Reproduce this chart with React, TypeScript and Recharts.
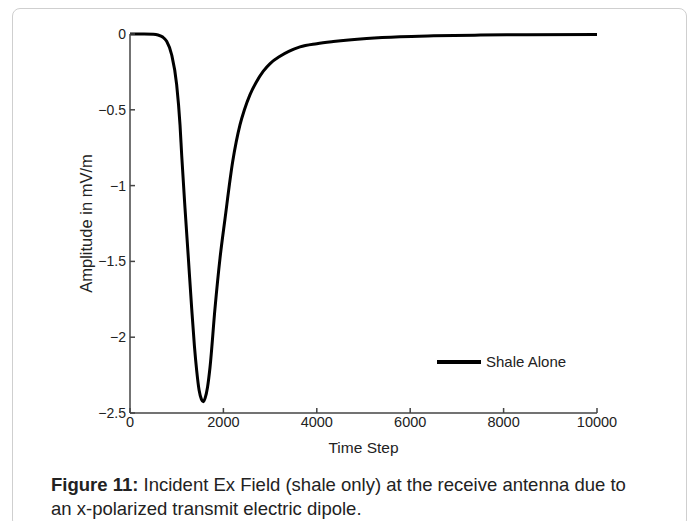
import React from 'react';
import { LineChart, Line, XAxis, YAxis, Legend } from 'recharts';

// time steps and amplitude (mV/m)
const timeSteps = [
  0, 300, 500, 600, 700, 785, 892, 999, 1071, 1107, 1178, 1250, 1321, 1380, 1428, 1480, 1530, 1570,
  1610, 1660, 1713, 1820, 1927, 2034, 2200, 2355, 2450, 2570, 2700, 2855, 3000, 3212, 3400, 3640,
  4000, 4354, 5068, 5782, 6500, 7500, 8500, 10000,
];
const amplitude = [
  0, 0, -0.002, -0.007, -0.02, -0.048, -0.137, -0.334, -0.6, -0.8, -1.15, -1.48, -1.81, -2.06, -2.22,
  -2.35, -2.41, -2.425, -2.4, -2.33, -2.2, -1.81, -1.48, -1.22, -0.84, -0.6, -0.5, -0.4, -0.32, -0.245,
  -0.195, -0.147, -0.115, -0.085, -0.064, -0.05, -0.03, -0.018, -0.012, -0.007, -0.005, -0.003,
];
const xTicks = [0, 2000, 4000, 6000, 8000, 10000];
const yTicks = [0, -0.5, -1, -1.5, -2, -2.5];
const seriesName = 'Shale Alone';

const data = timeSteps.map((t, i) => ({ t, v: amplitude[i] }));

const axisColor = '#444';
const textColor = '#222';
const font = '"Liberation Sans", Arial, sans-serif';

const fmtY = (v: number) => (v < 0 ? '\u2212' + Math.abs(v) : String(v));

function LegendBox() {
  return (
    <div style={{ display: 'flex', alignItems: 'center', fontFamily: font, fontSize: 15, color: textColor }}>
      <span style={{ display: 'inline-block', width: 44, height: 4, background: '#000', marginRight: 5 }} />
      <span>{seriesName}</span>
    </div>
  );
}

export default function App() {
  return (
    <div style={{ position: 'absolute', left: 0, top: 0, width: 697, height: 521, background: '#fff', overflow: 'hidden' }}>
      {/* figure frame */}
      <div
        style={{
          position: 'absolute',
          left: 12,
          top: 8,
          width: 675,
          height: 520,
          border: '1px solid #cfcfcf',
          borderRadius: 8,
          boxSizing: 'border-box',
        }}
      />
      <div style={{ position: 'absolute', left: 0, top: 0 }}>
        <LineChart width={697} height={460} data={data} margin={{ top: 34, right: 100, bottom: 17, left: 70 }}>
          <XAxis
            dataKey="t"
            type="number"
            domain={[0, 10000]}
            ticks={xTicks}
            tickSize={-5}
            tickMargin={9}
            stroke={axisColor}
            strokeWidth={1.5}
            height={30}
            tick={{ fill: textColor, fontSize: 14.5, fontFamily: font }}
            label={{ value: 'Time Step', position: 'insideBottom', offset: -10, fill: textColor, fontSize: 15.5, fontFamily: font }}
          />
          <YAxis
            type="number"
            domain={[-2.5, 0]}
            ticks={yTicks}
            tickFormatter={fmtY}
            tickSize={-5}
            tickMargin={9}
            stroke={axisColor}
            strokeWidth={1.5}
            width={60}
            tick={{ fill: textColor, fontSize: 14, fontFamily: font }}
            label={{ value: 'Amplitude in mV/m', angle: -90, position: 'insideLeft', offset: 16, fill: textColor, fontSize: 16.5, fontFamily: font, style: { textAnchor: 'middle' } }}
          />
          <Legend
            layout="vertical"
            align="center"
            verticalAlign="middle"
            content={() => <LegendBox />}
            wrapperStyle={{ position: 'absolute', left: 437, top: 353, width: 160 }}
          />
          <Line
            type="monotone"
            dataKey="v"
            name={seriesName}
            stroke="#000"
            strokeWidth={3}
            dot={false}
            isAnimationActive={false}
          />
        </LineChart>
      </div>
      <div
        style={{
          position: 'absolute',
          left: 51,
          top: 473,
          width: 640,
          fontFamily: font,
          fontSize: 18.5,
          lineHeight: '24px',
          color: textColor,
          whiteSpace: 'nowrap',
        }}
      >
        <span style={{ fontWeight: 'bold' }}>Figure 11:</span> Incident Ex Field (shale only) at the receive antenna due to
        <br />
        an x-polarized transmit electric dipole.
      </div>
    </div>
  );
}
